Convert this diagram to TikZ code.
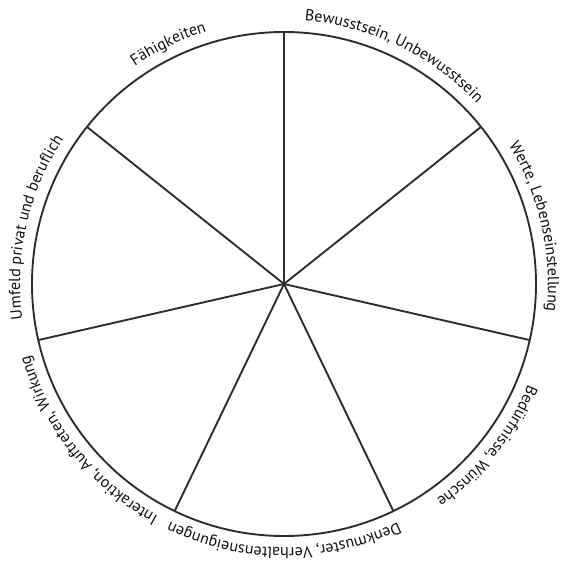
\documentclass[tikz,border=0pt]{standalone}
\usepackage{fontspec}
\setmainfont{PT Sans}
\usetikzlibrary{decorations.text}
\definecolor{linegray}{HTML}{2E2E2E}
\definecolor{textgray}{HTML}{111111}
\newcommand{\lblfmt}{\fontsize{16}{19}\selectfont}
\tikzset{
  spoke/.style={draw=linegray, line width=1.9pt},
  rim/.style={draw=linegray, line width=1.9pt},
  curvelabel/.style={decorate, decoration={text along path, text align=center, text color=textgray, text={|\lblfmt|#1}}}
}
\begin{document}
\begin{tikzpicture}[x=1pt,y=1pt]
\useasboundingbox (-284,-281) rectangle (280,284);
\coordinate (c) at (0,0);
\draw[rim] (c) circle[radius=252];
\foreach \k in {0,...,6}{
  \coordinate (s\k) at ({90-\k*360/7}:252);
  \draw[spoke] (c) -- (s\k);
}
\def\R{264}
\newcommand{\lbl}[2]{%
  \pgfmathsetmacro{\aA}{90-#1*360/7+20}%
  \pgfmathsetmacro{\aB}{90-(#1+1)*360/7-20}%
  \path[curvelabel={#2}] (\aA:\R) arc[start angle=\aA, end angle=\aB, radius=\R];%
}
\lbl{0}{Bewusstsein{,} Unbewusstsein}
\lbl{1}{Werte{,} Lebenseinstellung}
\lbl{2}{Bedürfnisse{,} Wünsche}
\lbl{3}{Denkmuster{,} Verhaltensneigungen}
\lbl{4}{Interaktion{,} Auftreten{,} Wirkung}
\lbl{5}{Umfeld privat und beruflich}
\lbl{6}{Fähigkeiten}
\end{tikzpicture}
\end{document}
